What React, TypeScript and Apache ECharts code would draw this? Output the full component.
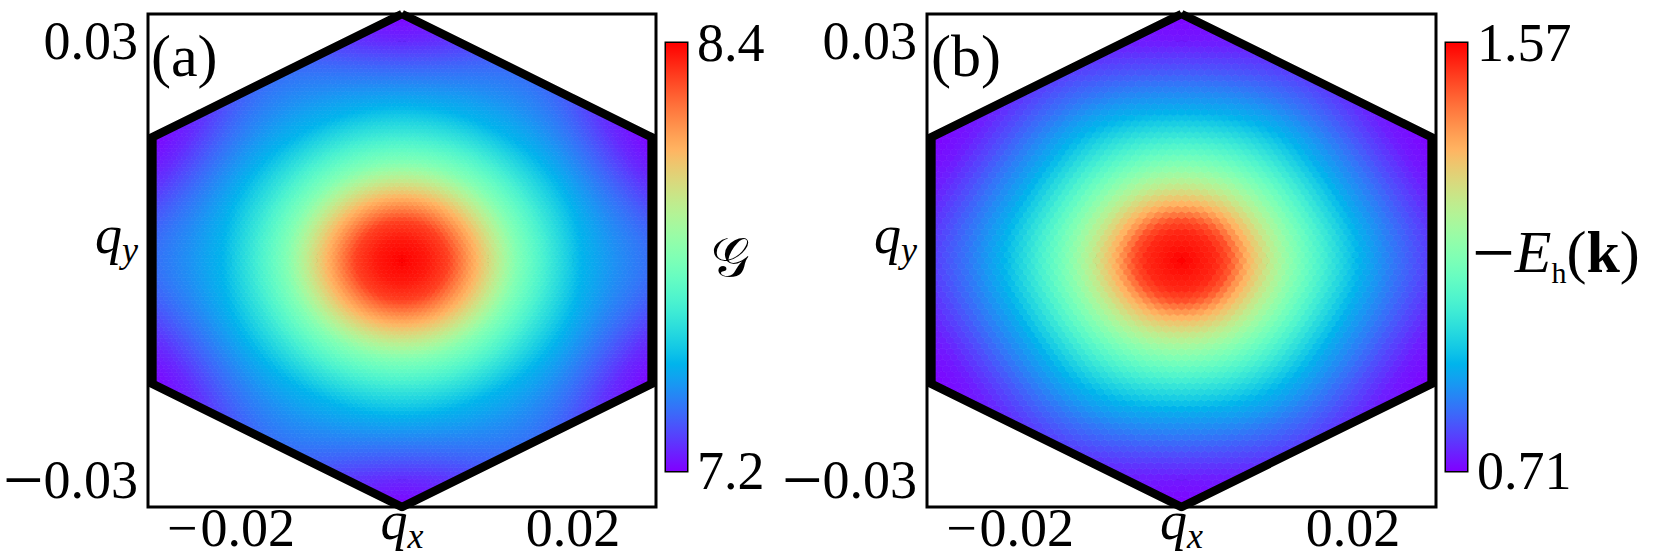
import React, { useEffect, useRef } from 'react';
import * as echarts from 'echarts';

// ---- axes / ticks ----
const xTicks = [-0.02, -0.01, 0, 0.01, 0.02];
const xLabelValues = [-0.02, 0, 0.02];
const yTicks = [-0.03, 0, 0.03];
const xLimit = 0.0297;
const yLimit = 0.0337;

// ---- Brillouin-zone hexagon ----
const hexRadius = 0.0337;
const hexVertices = [
  [0, 0.0337], [0.029185, 0.01685], [0.029185, -0.01685], [0, -0.0337],
  [-0.029185, -0.01685], [-0.029185, 0.01685], [0, 0.0337],
];

// ---- panel (a): G, radial profiles ----
const sideRadiusA = [0, 0.003, 0.0054, 0.0087, 0.011, 0.0135, 0.0175, 0.021, 0.025, 0.0292, 0.0337];
const sideValueA = [8.4, 8.364, 8.304, 8.1, 7.956, 7.8, 7.632, 7.5, 7.428, 7.368, 7.296];
const cornerRadiusA = [0, 0.003, 0.0054, 0.0087, 0.011, 0.0135, 0.0175, 0.0214, 0.0269, 0.03, 0.0337];
const cornerValueA = [8.4, 8.364, 8.304, 8.1, 7.956, 7.8, 7.63, 7.49, 7.344, 7.26, 7.2];

// ---- panel (b): -E_h(k) ----
const sideRadiusB = [0, 0.004, 0.0055, 0.0078, 0.0105, 0.0133, 0.017, 0.0207, 0.025, 0.0292, 0.0337];
const sideValueB = [1.57, 1.527, 1.484, 1.355, 1.243, 1.14, 1.028, 0.925, 0.839, 0.77, 0.736];
const cornerRadiusB = [0, 0.004, 0.0055, 0.0078, 0.0105, 0.0133, 0.017, 0.0207, 0.0269, 0.03, 0.0337];
const cornerValueB = [1.57, 1.527, 1.484, 1.355, 1.243, 1.14, 1.02, 0.91, 0.787, 0.736, 0.71];

// ---- colorbars ----
const cbTicksA = [7.2, 7.44, 7.68, 7.92, 8.16, 8.4];
const cbLabelsA = [7.2, 8.4];
const cbTicksB = [0.71, 0.882, 1.054, 1.226, 1.398, 1.57];
const cbLabelsB = [0.71, 1.57];

const meshStepA = 0.0006;
const meshStepB = 0.0009;

const F = 'Liberation Serif';
const FS = 54;

function rainbow(t: number) {
  const r = Math.min(1, Math.abs(2 * t - 0.5));
  const g = Math.sin(Math.PI * t);
  const b = Math.cos((Math.PI * t) / 2);
  return `rgb(${Math.round(r * 255)},${Math.round(g * 255)},${Math.round(b * 255)})`;
}
const cmap = Array.from({ length: 41 }, (_, i) => rainbow(i / 40));

function lookup(rs: number[], vs: number[], r: number) {
  if (r <= rs[0]) return vs[0];
  for (let i = 0; i < rs.length - 1; i++) {
    if (r <= rs[i + 1]) {
      const f = (r - rs[i]) / (rs[i + 1] - rs[i]);
      return vs[i] + f * (vs[i + 1] - vs[i]);
    }
  }
  return vs[vs.length - 1];
}

function buildMesh(step: number, rs: number[], vs: number[], rc: number[], vc: number[]) {
  const out: number[][] = [];
  const rowH = (step * Math.sqrt(3)) / 2;
  const nRows = Math.ceil(hexRadius / rowH) + 1;
  const nCols = Math.ceil(hexRadius / step) + 2;
  const halfW = (hexRadius * Math.sqrt(3)) / 2;
  for (let j = -nRows; j <= nRows; j++) {
    const y = j * rowH;
    const off = Math.abs(j) % 2 === 1 ? step / 2 : 0;
    for (let i = -nCols; i <= nCols; i++) {
      const x = i * step + off;
      if (Math.abs(x) > halfW + 1e-9) continue;
      if (Math.abs(y) > hexRadius - Math.abs(x) / Math.sqrt(3) + 1e-9) continue;
      const r = Math.hypot(x, y);
      const th = Math.atan2(y, x);
      const w = (1 - Math.cos(6 * th)) / 2;
      const v = (1 - w) * lookup(rs, vs, r) + w * lookup(rc, vc, r);
      out.push([x, y, v]);
    }
  }
  return out;
}

const meshA = buildMesh(meshStepA, sideRadiusA, sideValueA, cornerRadiusA, cornerValueA);
const meshB = buildMesh(meshStepB, sideRadiusB, sideValueB, cornerRadiusB, cornerValueB);

function hexCell(step: number) {
  return (params: any, api: any) => {
    const c = api.coord([api.value(0), api.value(1)]);
    const s = api.size([step, step]);
    const hx = s[0] / 2;
    const ry = s[1] / Math.sqrt(3);
    const col = api.visual('color');
    return {
      type: 'polygon',
      shape: {
        points: [
          [c[0], c[1] - ry], [c[0] + hx, c[1] - ry / 2], [c[0] + hx, c[1] + ry / 2],
          [c[0], c[1] + ry], [c[0] - hx, c[1] + ry / 2], [c[0] - hx, c[1] - ry / 2],
        ],
      },
      style: { fill: col, stroke: col, lineWidth: 0.7 },
    };
  };
}

function colorbarRender(params: any, api: any) {
  const p0 = api.coord([0, api.value(0)]);
  const p1 = api.coord([1, api.value(1)]);
  return {
    type: 'rect',
    shape: { x: p0[0], y: p1[1], width: p1[0] - p0[0], height: p0[1] - p1[1] },
    style: {
      fill: new echarts.graphic.LinearGradient(0, 1, 0, 0,
        cmap.map((c, i) => ({ offset: i / (cmap.length - 1), color: c }))),
    },
  };
}

const rich: any = {
  n: { fontFamily: F, fontSize: FS, lineHeight: 40, color: '#000' },
  m: { fontFamily: F, fontSize: 72, lineHeight: 40, color: '#000' },
  mx: { fontFamily: F, fontSize: FS, lineHeight: 40, padding: [0, 3, 0, 0], color: '#000' },
  q: { fontFamily: F, fontSize: FS, fontStyle: 'italic', lineHeight: 40, padding: [0, 0, 15, 0], color: '#000' },
  s: { fontFamily: F, fontSize: 36, fontStyle: 'italic', lineHeight: 40, padding: [15, 0, 0, 0], color: '#000' },
  qy: { fontFamily: F, fontSize: FS, fontStyle: 'italic', lineHeight: 60, padding: [0, 0, 52, 0], color: '#000' },
  sy: { fontFamily: F, fontSize: 36, fontStyle: 'italic', lineHeight: 60, padding: [15, 0, 37, 0], color: '#000' },
};

function yNumLabel(v: number) {
  const s = Math.abs(v).toFixed(2);
  return v < 0 ? `{m|\u2212}{n|${s}}` : `{n|${s}}`;
}
function xNumLabel(v: number) {
  const s = Math.abs(v).toFixed(2);
  return v < 0 ? `{mx|\u2212}{n|${s}}` : `{n|${s}}`;
}

const tickStyle = { show: true, inside: true, length: 6, lineStyle: { color: '#000', width: 2 } };

function panelAxes(grid: number) {
  const xs = [
    {
      gridIndex: grid, type: 'value', min: -xLimit, max: xLimit, position: 'bottom',
      axisLine: { show: false }, splitLine: { show: false },
      axisTick: { ...tickStyle, customValues: xTicks },
      axisLabel: {
        customValues: xLabelValues, margin: 1, rich,
        formatter: (v: number) => (Math.abs(v) < 1e-9 ? '{q|q}{s|x}' : xNumLabel(v)),
      },
    },
    {
      gridIndex: grid, type: 'value', min: -xLimit, max: xLimit, position: 'top',
      axisLine: { show: false }, splitLine: { show: false },
      axisTick: { ...tickStyle, customValues: xTicks }, axisLabel: { show: false },
    },
  ];
  const ys = [
    {
      gridIndex: grid, type: 'value', min: -yLimit, max: yLimit, position: 'left',
      axisLine: { show: false }, splitLine: { show: false },
      axisTick: { ...tickStyle, customValues: yTicks },
      axisLabel: {
        customValues: yTicks, margin: 10, rich,
        formatter: (v: number) => (Math.abs(v) < 1e-9 ? '{qy|q}{sy|y}' : yNumLabel(v)),
      },
    },
    {
      gridIndex: grid, type: 'value', min: -yLimit, max: yLimit, position: 'right',
      axisLine: { show: false }, splitLine: { show: false },
      axisTick: { ...tickStyle, customValues: yTicks }, axisLabel: { show: false },
    },
  ];
  return { xs, ys };
}

function cbAxes(grid: number, ticks: number[], labels: number[], digits: number) {
  const x = { gridIndex: grid, type: 'value', min: 0, max: 1, show: false };
  const y = {
    gridIndex: grid, type: 'value', min: ticks[0], max: ticks[ticks.length - 1], position: 'right',
    axisLine: { show: false }, splitLine: { show: false },
    axisTick: { show: true, inside: false, length: 5, lineStyle: { color: '#000', width: 2 }, customValues: ticks },
    axisLabel: {
      customValues: labels, margin: 10, fontFamily: F, fontSize: FS, lineHeight: 40, color: '#000',
      formatter: (v: number) => v.toFixed(digits),
    },
  };
  return { x, y };
}

const gridBox = { show: true, borderColor: '#000', borderWidth: 3, backgroundColor: 'transparent', containLabel: false, outerBoundsMode: 'none' };

const nameRichB = {
  m: { fontFamily: F, fontSize: 76, lineHeight: 60, padding: [0, 0, 20, 0], color: '#000' },
  E: { fontFamily: F, fontSize: 60, fontStyle: 'italic', lineHeight: 60, padding: [0, 0, 20, 0], color: '#000' },
  h: { fontFamily: F, fontSize: 30, lineHeight: 60, padding: [20, 0, 0, 0], color: '#000' },
  p: { fontFamily: F, fontSize: 60, lineHeight: 60, padding: [0, 0, 20, 0], color: '#000' },
  k: { fontFamily: F, fontSize: 60, fontWeight: 'bold', lineHeight: 60, padding: [0, 0, 20, 0], color: '#000' },
};

function buildOption() {
  const pa = panelAxes(0);
  const ca = cbAxes(1, cbTicksA, cbLabelsA, 1);
  const pb = panelAxes(2);
  const cb = cbAxes(3, cbTicksB, cbLabelsB, 2);

  return {
    animation: false,
    backgroundColor: '#fff',
    grid: [
      { ...gridBox, left: 148, top: 14, width: 508, height: 493 },
      { ...gridBox, left: 666, top: 43, width: 21, height: 428 },
      { ...gridBox, left: 927, top: 14, width: 509, height: 493 },
      { ...gridBox, left: 1446, top: 43, width: 21, height: 428 },
    ],
    xAxis: [...pa.xs, ca.x, ...pb.xs, cb.x],
    yAxis: [...pa.ys, ca.y, ...pb.ys, cb.y],
    visualMap: [
      { type: 'continuous', show: false, seriesIndex: 0, dimension: 2, min: cbTicksA[0], max: cbTicksA[5], inRange: { color: cmap } },
      { type: 'continuous', show: false, seriesIndex: 3, dimension: 2, min: cbTicksB[0], max: cbTicksB[5], inRange: { color: cmap } },
    ],
    graphic: [
      { type: 'text', left: 151, top: 26, z: 100, style: { text: '(a)', fontFamily: F, fontSize: 60, fill: '#000' } },
      { type: 'text', left: 931, top: 26, z: 100, style: { text: '(b)', fontFamily: F, fontSize: 60, fill: '#000' } },
      {
        type: 'text', x: 711, y: 258, z: 100,
        style: { text: '\u{1D4A2}', fontFamily: F, fontSize: 54, fill: '#000', align: 'left', verticalAlign: 'middle' },
      },
      {
        type: 'text', x: 1472, y: 262, z: 100,
        style: { text: '{m|\u2212}{E|E}{h|h}{p|(}{k|k}{p|)}', rich: nameRichB, fill: '#000', align: 'left', verticalAlign: 'middle' },
      },
    ],
    series: [
      { type: 'custom', name: 'G', xAxisIndex: 0, yAxisIndex: 0, data: meshA, encode: { x: 0, y: 1 }, clip: true, silent: true, renderItem: hexCell(meshStepA), z: 1 },
      { type: 'line', xAxisIndex: 0, yAxisIndex: 0, data: hexVertices, symbol: 'none', silent: true, clip: true, z: 3, lineStyle: { color: '#000', width: 8.5, join: 'miter' } },
      { type: 'custom', xAxisIndex: 2, yAxisIndex: 2, data: [[cbTicksA[0], cbTicksA[5]]], encode: { y: [0, 1] }, silent: true, renderItem: colorbarRender },
      { type: 'custom', name: '-E_h(k)', xAxisIndex: 3, yAxisIndex: 3, data: meshB, encode: { x: 0, y: 1 }, clip: true, silent: true, renderItem: hexCell(meshStepB), z: 1 },
      { type: 'line', xAxisIndex: 3, yAxisIndex: 3, data: hexVertices, symbol: 'none', silent: true, clip: true, z: 3, lineStyle: { color: '#000', width: 8.5, join: 'miter' } },
      { type: 'custom', xAxisIndex: 5, yAxisIndex: 5, data: [[cbTicksB[0], cbTicksB[5]]], encode: { y: [0, 1] }, silent: true, renderItem: colorbarRender },
    ],
  };
}

export default function App() {
  const ref = useRef<HTMLDivElement>(null);
  useEffect(() => {
    document.body.style.margin = '0';
    const chart = echarts.init(ref.current!, null, { renderer: 'svg' });
    chart.setOption(buildOption() as any);
    return () => chart.dispose();
  }, []);
  return <div ref={ref} style={{ width: 1661, height: 558 }} />;
}
